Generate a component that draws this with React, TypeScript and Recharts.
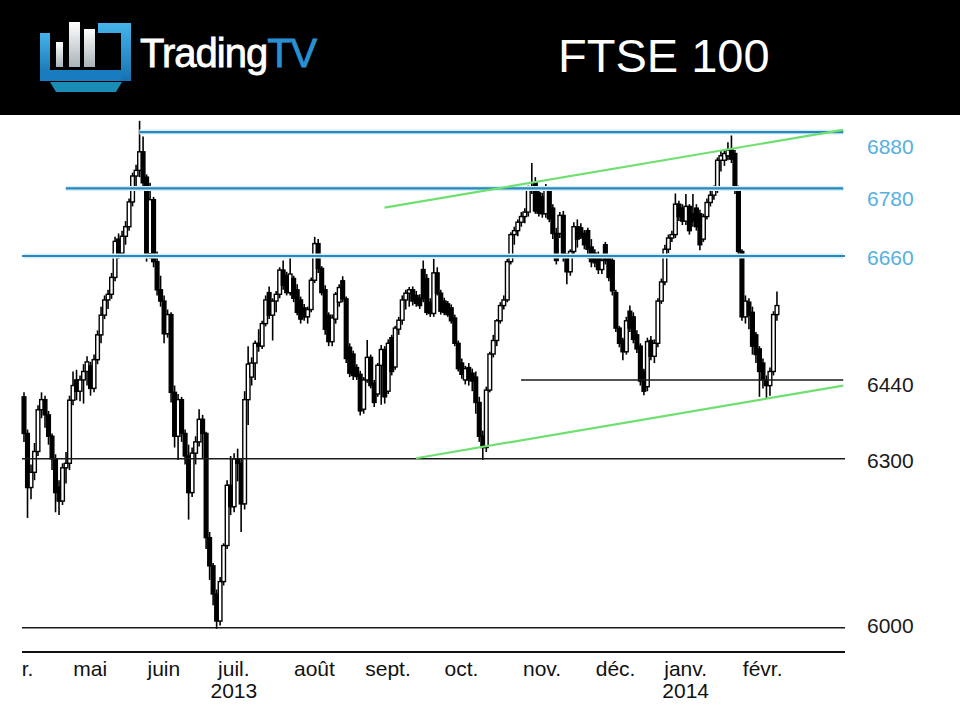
import { Bar, ComposedChart, ReferenceLine, XAxis, YAxis } from "recharts";

// FTSE 100 daily candles, April 2013 to February 2014 (one entry per trading day)
const opens = [
  6410, 6345, 6249, 6276, 6313, 6387, 6405, 6378, 6340, 6300, 6250, 6225, 6284, 6292, 6404, 6440, 6420, 6440, 6455,
  6465, 6425, 6476, 6520, 6555, 6582, 6592, 6622, 6690, 6665, 6695, 6712, 6756, 6802, 6812, 6845, 6800, 6664, 6760, 6650, 6600,
  6580, 6522, 6556, 6418, 6340, 6405, 6345, 6305, 6240, 6310, 6330, 6370, 6345, 6160, 6110, 6060, 6012, 6082, 6146, 6253,
  6215, 6300, 6292, 6220, 6405, 6445, 6470, 6505, 6500, 6540, 6595, 6555, 6580, 6592, 6635, 6625, 6595, 6620, 6600, 6582, 6568, 6552, 6565,
  6617, 6682, 6638, 6600, 6555, 6508, 6548, 6578, 6616, 6584, 6498, 6486, 6462, 6450, 6388, 6440, 6480, 6434, 6415, 6466, 6494,
  6420, 6515, 6463, 6530, 6546, 6582, 6594, 6600, 6590, 6585, 6636, 6620, 6578, 6558, 6630, 6594, 6580, 6575, 6568, 6550, 6505,
  6470, 6440, 6462, 6452, 6445, 6400, 6340, 6320, 6422, 6486, 6510, 6545, 6572, 6582, 6650, 6698, 6705, 6720, 6730, 6738, 6778, 6790, 6772,
  6765, 6735, 6778, 6745, 6700, 6700, 6732, 6660, 6632, 6668, 6712, 6710, 6700, 6705, 6676, 6665, 6662, 6636, 6680, 6655, 6652,
  6595, 6532, 6510, 6490, 6562, 6552, 6520, 6500, 6455, 6428, 6510, 6482, 6505, 6580, 6614, 6672, 6692, 6698, 6752, 6745,
  6722, 6748, 6735, 6745, 6735, 6690, 6730, 6755, 6768, 6778, 6830, 6830, 6838, 6848, 6842, 6778, 6668, 6552, 6578, 6560, 6520, 6495,
  6470, 6440, 6430, 6455, 6556,
];
const highs = [
  6418, 6352, 6290, 6328, 6395, 6418, 6412, 6385, 6345, 6308, 6262, 6292, 6312, 6412, 6455, 6458, 6448, 6468, 6482,
  6472, 6485, 6528, 6570, 6590, 6600, 6630, 6694, 6700, 6705, 6722, 6762, 6808, 6822, 6900, 6872, 6805, 6790, 6765, 6668, 6625,
  6590, 6565, 6560, 6430, 6415, 6410, 6352, 6325, 6320, 6340, 6388, 6378, 6348, 6170, 6115, 6068, 6090, 6150, 6262, 6305,
  6310, 6318, 6300, 6420, 6500, 6480, 6510, 6530, 6545, 6590, 6606, 6585, 6598, 6640, 6652, 6632, 6658, 6625, 6610, 6588, 6575, 6570, 6622,
  6694, 6690, 6642, 6608, 6560, 6556, 6596, 6610, 6624, 6588, 6505, 6492, 6468, 6456, 6445, 6511, 6485, 6440, 6470, 6502, 6500,
  6512, 6520, 6536, 6552, 6590, 6600, 6605, 6606, 6598, 6592, 6652, 6628, 6585, 6655, 6640, 6600, 6586, 6580, 6574, 6556, 6510,
  6478, 6465, 6470, 6460, 6455, 6410, 6350, 6428, 6490, 6520, 6548, 6578, 6590, 6655, 6702, 6712, 6725, 6738, 6745, 6785, 6825, 6800, 6780,
  6772, 6788, 6782, 6752, 6710, 6738, 6740, 6665, 6672, 6720, 6725, 6718, 6706, 6710, 6690, 6672, 6668, 6660, 6685, 6660, 6658,
  6600, 6536, 6515, 6552, 6572, 6560, 6528, 6505, 6460, 6515, 6518, 6512, 6585, 6620, 6680, 6698, 6705, 6771, 6758, 6752,
  6770, 6752, 6770, 6752, 6742, 6735, 6762, 6782, 6785, 6835, 6848, 6850, 6862, 6874, 6848, 6785, 6672, 6590, 6585, 6570, 6525, 6500,
  6478, 6448, 6462, 6562, 6597,
];
const lows = [
  6330, 6195, 6228, 6262, 6305, 6372, 6355, 6325, 6280, 6205, 6200, 6218, 6256, 6280, 6395, 6404, 6402, 6398, 6430,
  6412, 6418, 6468, 6505, 6548, 6566, 6584, 6615, 6655, 6660, 6680, 6705, 6748, 6780, 6800, 6780, 6650, 6655, 6640, 6590, 6570,
  6505, 6515, 6400, 6320, 6298, 6330, 6290, 6192, 6232, 6290, 6322, 6300, 6140, 6085, 6040, 5998, 6004, 6075, 6140, 6200,
  6205, 6260, 6170, 6210, 6360, 6430, 6440, 6490, 6495, 6535, 6548, 6510, 6560, 6585, 6600, 6590, 6590, 6578, 6555, 6540, 6545, 6540, 6560,
  6612, 6630, 6590, 6520, 6500, 6500, 6540, 6570, 6578, 6470, 6445, 6440, 6440, 6377, 6380, 6435, 6425, 6392, 6410, 6396, 6398,
  6415, 6448, 6458, 6520, 6538, 6565, 6570, 6572, 6570, 6566, 6578, 6555, 6552, 6552, 6590, 6556, 6555, 6552, 6540, 6500, 6455,
  6442, 6432, 6430, 6420, 6380, 6330, 6298, 6312, 6418, 6480, 6500, 6540, 6565, 6578, 6645, 6680, 6695, 6712, 6718, 6730, 6770, 6735, 6730,
  6728, 6728, 6720, 6690, 6645, 6692, 6650, 6610, 6625, 6660, 6675, 6690, 6672, 6655, 6640, 6640, 6628, 6628, 6645, 6615, 6590,
  6525, 6498, 6475, 6485, 6525, 6505, 6488, 6430, 6413, 6420, 6475, 6470, 6498, 6575, 6608, 6665, 6685, 6692, 6722, 6715,
  6715, 6698, 6712, 6705, 6670, 6685, 6725, 6748, 6760, 6772, 6810, 6820, 6830, 6825, 6770, 6660, 6545, 6540, 6530, 6485, 6470, 6410,
  6425, 6408, 6412, 6448, 6545,
];
const closes = [
  6345, 6249, 6276, 6313, 6387, 6405, 6378, 6340, 6300, 6240, 6225, 6284, 6292, 6404, 6430, 6420, 6440, 6455, 6472,
  6425, 6476, 6520, 6555, 6582, 6592, 6622, 6686, 6665, 6695, 6712, 6756, 6802, 6812, 6845, 6790, 6664, 6760, 6650, 6600, 6580,
  6522, 6556, 6418, 6340, 6405, 6345, 6305, 6240, 6310, 6330, 6370, 6345, 6160, 6110, 6060, 6012, 6082, 6146, 6253, 6215,
  6300, 6292, 6220, 6405, 6468, 6470, 6505, 6500, 6540, 6582, 6555, 6580, 6592, 6635, 6608, 6595, 6628, 6585, 6560, 6548, 6552, 6565, 6617,
  6682, 6638, 6595, 6530, 6508, 6550, 6592, 6604, 6584, 6478, 6452, 6448, 6446, 6385, 6440, 6480, 6430, 6400, 6466, 6494, 6410,
  6505, 6455, 6532, 6546, 6582, 6594, 6600, 6580, 6576, 6572, 6584, 6560, 6558, 6630, 6594, 6562, 6560, 6556, 6545, 6505, 6460,
  6450, 6460, 6440, 6438, 6400, 6340, 6320, 6422, 6486, 6510, 6545, 6572, 6582, 6650, 6698, 6705, 6720, 6730, 6738, 6778, 6782, 6740, 6736,
  6735, 6778, 6726, 6700, 6652, 6732, 6660, 6632, 6668, 6712, 6690, 6694, 6680, 6672, 6650, 6648, 6636, 6652, 6652, 6622, 6598,
  6532, 6505, 6490, 6545, 6532, 6512, 6495, 6438, 6420, 6508, 6482, 6505, 6580, 6614, 6672, 6692, 6698, 6752, 6730, 6722,
  6748, 6705, 6722, 6712, 6680, 6730, 6755, 6768, 6778, 6830, 6838, 6842, 6848, 6832, 6778, 6668, 6552, 6580, 6555, 6500, 6485, 6455,
  6440, 6430, 6455, 6556, 6572,
];

// trading-day slots on the axis (the last ones are empty, to the right of the candles)
const slotCount = 235;

// first trading day of each month, and its label
const monthTicks = [0, 19, 40, 60, 83, 104, 125, 148, 169, 189, 211];
const monthLabels = ["r.", "mai", "juin", "juil.", "août", "sept.", "oct.", "nov.", "déc.", "janv.", "févr."];
const yearTicks = [60, 189];
const yearLabels = ["2013", "2014"];

// support / resistance levels and the trading day where each line starts
const levels = [6880, 6780, 6660, 6440, 6300, 6000];
const levelStarts = [33, 12, 0, 142, 0, 0];

// channel lines: [day, value] at each end
const upperChannel = [
  [103, 6746],
  [234, 6884],
];
const lowerChannel = [
  [112, 6301],
  [234, 6430],
];

const rows = Array.from({ length: slotCount }, (_, i) =>
  i < closes.length
    ? { i, range: [lows[i], highs[i]], o: opens[i], h: highs[i], l: lows[i], c: closes[i] }
    : { i }
);

const font = "'Liberation Sans', Arial, sans-serif";
const blue = "#2a86bd";
const glow = "#d3f0f8";
const labelBlue = "#56b0e0";

const Candle = (props: any) => {
  const { x, y, width, height, payload } = props;
  if (!payload || payload.o == null) return null;
  const top = Math.min(y, y + height);
  const bottom = Math.max(y, y + height);
  const span = payload.h - payload.l;
  const toY = (v: number) => (span === 0 ? top : top + ((payload.h - v) / span) * (bottom - top));
  const cx = x + width / 2;
  const up = payload.c >= payload.o;
  const yo = toY(payload.o);
  const yc = toY(payload.c);
  const bw = Math.max(width - 0.3, 1.5);
  return (
    <g>
      <line x1={cx} x2={cx} y1={top} y2={bottom} stroke="#000" strokeWidth={1.6} />
      <rect
        x={cx - bw / 2}
        y={Math.min(yo, yc)}
        width={bw}
        height={Math.max(Math.abs(yc - yo), 1.2)}
        fill={up ? "#fff" : "#000"}
        stroke="#000"
        strokeWidth={1.4}
      />
    </g>
  );
};

const MonthTick = (props: any) => {
  const { x, y, payload } = props;
  const k = monthTicks.indexOf(payload.value);
  const yi = yearTicks.indexOf(payload.value);
  if (k < 0) return null;
  return (
    <g fontFamily={font} fontSize={21} fill="#111">
      <text x={k === 0 ? x - 2 : x} y={y + 22} textAnchor={k === 0 ? "start" : "middle"}>
        {monthLabels[k]}
      </text>
      {yi >= 0 && (
        <text x={x} y={y + 44} textAnchor="middle">
          {yearLabels[yi]}
        </text>
      )}
    </g>
  );
};

// the two top labels sit a little under their lines in the original
const labelNudge = [14, 10, 1, 5, 2, -2];

const LevelTick = (props: any) => {
  const { x, y, payload } = props;
  const k = levels.indexOf(payload.value);
  return (
    <text
      x={x}
      y={y + (labelNudge[k] || 0)}
      dy="0.36em"
      textAnchor="start"
      fontFamily={font}
      fontSize={21}
      fill={k < 3 ? labelBlue : "#1a1a1a"}
    >
      {payload.value}
    </text>
  );
};

function Header() {
  return (
    <svg width={960} height={115} style={{ display: "block", background: "#000" }}>
      <defs>
        <linearGradient id="barFill" x1="0" y1="0" x2="0" y2="1">
          <stop offset="0%" stopColor="#ffffff" />
          <stop offset="100%" stopColor="#a9b3b8" />
        </linearGradient>
        <linearGradient id="frameFill" x1="0" y1="0" x2="0" y2="1">
          <stop offset="0%" stopColor="#45b4ea" />
          <stop offset="100%" stopColor="#1672b2" />
        </linearGradient>
      </defs>
      <rect x={40} y={33} width={10} height={44} fill="url(#frameFill)" />
      <rect x={40} y={70} width={91} height={11} fill="#1a7cc0" />
      <path d="M98 23 H131 V81 H121 V33 H98 Z" fill="url(#frameFill)" />
      <rect x={56} y={42} width={7} height={25} fill="url(#barFill)" />
      <rect x={69} y={22} width={11} height={45} fill="url(#barFill)" />
      <rect x={84} y={29} width={11} height={38} fill="url(#barFill)" />
      <path d="M50 82 H122 L116 92 H56 Z" fill="#1b8db5" />
      <text x={140} y={67} fontFamily={font} fontSize={40} fill="#fff" stroke="#fff" strokeWidth={0.8} letterSpacing={-1}>
        Trading
        <tspan fill="#2a90d2" stroke="#2a90d2">
          TV
        </tspan>
      </text>
      <text x={558} y={72} fontFamily={font} fontSize={47} fill="#fff">
        FTSE 100
      </text>
    </svg>
  );
}

function App() {
  return (
    <div
      style={{
        position: "absolute",
        left: 0,
        top: 0,
        width: 960,
        height: 720,
        background: "#fff",
        overflow: "hidden",
      }}
    >
      <Header />
      <ComposedChart
        width={960}
        height={605}
        data={rows}
        margin={{ top: 3, right: 0, bottom: 0, left: 22 }}
        barCategoryGap={0}
      >
        <XAxis
          dataKey="i"
          type="category"
          ticks={monthTicks}
          interval={0}
          height={68}
          tickLine={false}
          tickSize={0}
          axisLine={{ stroke: "#111", strokeWidth: 2 }}
          tick={<MonthTick />}
        />
        <YAxis
          orientation="right"
          type="number"
          domain={[5957, 6905]}
          allowDataOverflow
          ticks={levels}
          interval={0}
          width={115}
          axisLine={false}
          tickLine={false}
          tickSize={6}
          tickMargin={16}
          tick={<LevelTick />}
        />
        <Bar dataKey="range" shape={<Candle />} isAnimationActive={false} />
        {levels.map((v, k) =>
          k < 3 ? (
            <ReferenceLine
              key={`g${v}`}
              segment={[
                { x: levelStarts[k], y: v },
                { x: slotCount - 1, y: v },
              ]}
              stroke={glow}
              strokeWidth={5}
            />
          ) : null
        )}
        {levels.map((v, k) =>
          levelStarts[k] === 0 ? (
            <ReferenceLine key={v} y={v} stroke={k < 3 ? blue : "#1a1a1a"} strokeWidth={k < 3 ? 2.2 : 1.5} />
          ) : (
            <ReferenceLine
              key={v}
              segment={[
                { x: levelStarts[k], y: v },
                { x: slotCount - 1, y: v },
              ]}
              stroke={k < 3 ? blue : "#1a1a1a"}
              strokeWidth={k < 3 ? 2.2 : 1.5}
            />
          )
        )}
        <ReferenceLine
          segment={upperChannel.map(([x, y]) => ({ x, y }))}
          stroke="#6fe06f"
          strokeWidth={2.2}
        />
        <ReferenceLine
          segment={lowerChannel.map(([x, y]) => ({ x, y }))}
          stroke="#6fe06f"
          strokeWidth={2.2}
        />
      </ComposedChart>
    </div>
  );
}

export default App;
